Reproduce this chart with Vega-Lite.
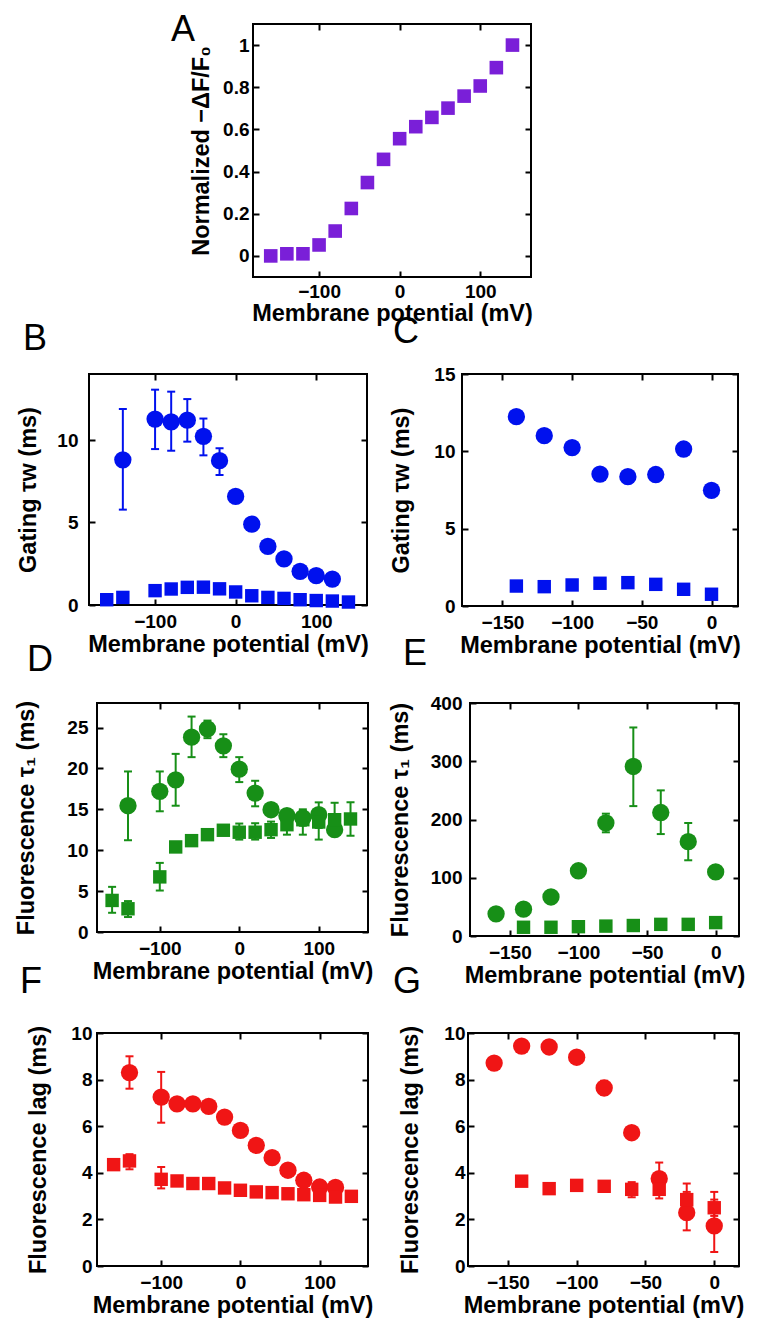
{
"$schema":"https://vega.github.io/schema/vega-lite/v6.json",
"autosize":{"type":"none"},
"padding":{"left":89,"top":24,"right":673,"bottom":1314},
"background":"white",
"config":{
 "view":{"stroke":"black","strokeWidth":2},
 "axis":{"domain":false,"grid":false,"ticks":true,"tickSize":-6,"tickWidth":2,"tickColor":"black","labelFont":"Liberation Sans","labelFontSize":19,"labelFontWeight":"bold","labelColor":"black","titleFont":"Liberation Sans","titleFontSize":23.5,"titleFontWeight":"bold","titleColor":"black","labelFlush":false,"labelOverlap":false,"labelBound":false},
 "axisX":{"labelPadding":13,"titlePadding":1},
 "title":{"font":"Liberation Sans","fontSize":36,"fontWeight":"normal","anchor":"start","frame":"group","baseline":"alphabetic","color":"black"}
},
"datasets":{
 "A":[{"v":-160,"y":0.0,"s":"q"},{"v":-140,"y":0.01,"s":"q"},{"v":-120,"y":0.01,"s":"q"},{"v":-100,"y":0.052,"s":"q"},{"v":-80,"y":0.118,"s":"q"},{"v":-60,"y":0.225,"s":"q"},{"v":-40,"y":0.348,"s":"q"},{"v":-20,"y":0.458,"s":"q"},{"v":0,"y":0.556,"s":"q"},{"v":20,"y":0.613,"s":"q","lo":0.59,"hi":0.635},{"v":40,"y":0.657,"s":"q"},{"v":60,"y":0.701,"s":"q"},{"v":80,"y":0.758,"s":"q"},{"v":100,"y":0.806,"s":"q"},{"v":120,"y":0.893,"s":"q"},{"v":140,"y":1.0,"s":"q"}],
 "B":[{"v":-140,"y":8.8,"s":"c","lo":5.78,"hi":11.88},{"v":-100,"y":11.27,"s":"c","lo":9.45,"hi":13.05},{"v":-80,"y":11.1,"s":"c","lo":9.35,"hi":12.93},{"v":-60,"y":11.2,"s":"c","lo":9.9,"hi":12.48},{"v":-40,"y":10.22,"s":"c","lo":9.07,"hi":11.3},{"v":-20,"y":8.75,"s":"c","lo":7.88,"hi":9.5},{"v":0,"y":6.58,"s":"c"},{"v":20,"y":4.9,"s":"c"},{"v":40,"y":3.55,"s":"c"},{"v":60,"y":2.79,"s":"c"},{"v":80,"y":2.04,"s":"c"},{"v":100,"y":1.78,"s":"c"},{"v":120,"y":1.57,"s":"c"},
  {"v":-160,"y":0.32,"s":"q"},{"v":-140,"y":0.46,"s":"q"},{"v":-100,"y":0.87,"s":"q"},{"v":-80,"y":0.97,"s":"q"},{"v":-60,"y":1.07,"s":"q"},{"v":-40,"y":1.08,"s":"q"},{"v":-20,"y":0.98,"s":"q"},{"v":0,"y":0.79,"s":"q"},{"v":20,"y":0.56,"s":"q"},{"v":40,"y":0.46,"s":"q"},{"v":60,"y":0.4,"s":"q"},{"v":80,"y":0.32,"s":"q"},{"v":100,"y":0.27,"s":"q"},{"v":120,"y":0.24,"s":"q"},{"v":140,"y":0.18,"s":"q"}],
 "C":[{"v":-140,"y":12.24,"s":"c"},{"v":-120,"y":11.01,"s":"c"},{"v":-100,"y":10.24,"s":"c"},{"v":-80,"y":8.53,"s":"c"},{"v":-60,"y":8.36,"s":"c"},{"v":-40,"y":8.5,"s":"c"},{"v":-20,"y":10.15,"s":"c"},{"v":0,"y":7.48,"s":"c"},
  {"v":-140,"y":1.29,"s":"q"},{"v":-120,"y":1.25,"s":"q"},{"v":-100,"y":1.36,"s":"q"},{"v":-80,"y":1.47,"s":"q"},{"v":-60,"y":1.51,"s":"q"},{"v":-40,"y":1.4,"s":"q"},{"v":-20,"y":1.08,"s":"q"},{"v":0,"y":0.76,"s":"q"}],
 "D":[{"v":-140,"y":15.44,"s":"c","lo":11.22,"hi":19.63},{"v":-100,"y":17.2,"s":"c","lo":14.76,"hi":19.63},{"v":-80,"y":18.6,"s":"c","lo":15.44,"hi":21.78},{"v":-60,"y":23.82,"s":"c","lo":21.38,"hi":26.34},{"v":-40,"y":24.83,"s":"c","lo":23.7,"hi":25.85},{"v":-20,"y":22.76,"s":"c","lo":21.38,"hi":24.18},{"v":0,"y":19.91,"s":"c","lo":18.33,"hi":21.38},{"v":20,"y":16.99,"s":"c","lo":15.37,"hi":18.49},{"v":40,"y":14.95,"s":"c","lo":14.2,"hi":15.7},{"v":60,"y":14.22,"s":"c","lo":13.0,"hi":15.0},{"v":80,"y":13.94,"s":"c","lo":13.0,"hi":15.0},{"v":100,"y":14.34,"s":"c","lo":12.72,"hi":15.85},{"v":120,"y":12.51,"s":"c","lo":11.9,"hi":13.3},
  {"v":-160,"y":3.86,"s":"q","lo":2.35,"hi":5.52},{"v":-140,"y":2.84,"s":"q","lo":1.83,"hi":3.78},{"v":-100,"y":6.74,"s":"q","lo":5.07,"hi":8.45},{"v":-80,"y":10.4,"s":"q"},{"v":-60,"y":11.17,"s":"q"},{"v":-40,"y":11.9,"s":"q","lo":11.4,"hi":12.4},{"v":-20,"y":12.44,"s":"q","lo":11.9,"hi":13.0},{"v":0,"y":12.2,"s":"q","lo":11.3,"hi":13.26},{"v":20,"y":12.2,"s":"q","lo":11.3,"hi":13.3},{"v":40,"y":12.51,"s":"q","lo":11.5,"hi":13.5},{"v":60,"y":13.12,"s":"q","lo":11.9,"hi":14.7},{"v":80,"y":13.73,"s":"q","lo":11.9,"hi":14.8},{"v":100,"y":13.45,"s":"q","lo":11.3,"hi":14.7},{"v":120,"y":13.73,"s":"q","lo":11.9,"hi":15.8},{"v":140,"y":13.82,"s":"q","lo":11.78,"hi":15.85}],
 "E":[{"v":-160,"y":38,"s":"c"},{"v":-140,"y":46,"s":"c"},{"v":-120,"y":67,"s":"c"},{"v":-100,"y":112,"s":"c"},{"v":-80,"y":194,"s":"c","lo":178,"hi":210},{"v":-60,"y":291,"s":"c","lo":223,"hi":358},{"v":-40,"y":212,"s":"c","lo":175,"hi":250},{"v":-20,"y":162,"s":"c","lo":130,"hi":194},{"v":0,"y":110,"s":"c"},
  {"v":-140,"y":15,"s":"q"},{"v":-120,"y":15,"s":"q"},{"v":-100,"y":16,"s":"q"},{"v":-80,"y":17,"s":"q"},{"v":-60,"y":18,"s":"q"},{"v":-40,"y":20,"s":"q"},{"v":-20,"y":20,"s":"q"},{"v":0,"y":23,"s":"q"}],
 "F":[{"v":-140,"y":8.3,"s":"c","lo":7.61,"hi":9.0},{"v":-100,"y":7.25,"s":"c","lo":6.15,"hi":8.33},{"v":-80,"y":6.96,"s":"c"},{"v":-60,"y":6.96,"s":"c"},{"v":-40,"y":6.85,"s":"c"},{"v":-20,"y":6.39,"s":"c"},{"v":0,"y":5.82,"s":"c"},{"v":20,"y":5.18,"s":"c"},{"v":40,"y":4.65,"s":"c"},{"v":60,"y":4.11,"s":"c"},{"v":80,"y":3.68,"s":"c"},{"v":100,"y":3.39,"s":"c"},{"v":120,"y":3.37,"s":"c"},
  {"v":-160,"y":4.35,"s":"q"},{"v":-140,"y":4.51,"s":"q","lo":4.15,"hi":4.8},{"v":-100,"y":3.72,"s":"q","lo":3.33,"hi":4.25},{"v":-80,"y":3.65,"s":"q"},{"v":-60,"y":3.54,"s":"q"},{"v":-40,"y":3.54,"s":"q"},{"v":-20,"y":3.35,"s":"q"},{"v":0,"y":3.25,"s":"q"},{"v":20,"y":3.18,"s":"q"},{"v":40,"y":3.15,"s":"q"},{"v":60,"y":3.1,"s":"q"},{"v":80,"y":3.06,"s":"q"},{"v":100,"y":3.03,"s":"q"},{"v":120,"y":2.96,"s":"q"},{"v":140,"y":2.99,"s":"q"}],
 "G":[{"v":-160,"y":8.71,"s":"c"},{"v":-140,"y":9.44,"s":"c"},{"v":-120,"y":9.4,"s":"c"},{"v":-100,"y":8.96,"s":"c"},{"v":-80,"y":7.64,"s":"c","lo":7.35,"hi":7.95},{"v":-60,"y":5.72,"s":"c"},{"v":-40,"y":3.75,"s":"c","lo":3.1,"hi":4.44},{"v":-20,"y":2.29,"s":"c","lo":1.53,"hi":3.54},{"v":0,"y":1.72,"s":"c","lo":0.6,"hi":3.18},
  {"v":-140,"y":3.64,"s":"q"},{"v":-120,"y":3.32,"s":"q"},{"v":-100,"y":3.46,"s":"q"},{"v":-80,"y":3.42,"s":"q"},{"v":-60,"y":3.29,"s":"q","lo":2.95,"hi":3.6},{"v":-40,"y":3.29,"s":"q","lo":2.9,"hi":3.6},{"v":-20,"y":2.85,"s":"q","lo":2.47,"hi":3.18},{"v":0,"y":2.5,"s":"q","lo":2.15,"hi":2.85}]
},
"spacing":0,"bounds":"flush",
"vconcat":[
 {"spacing":0,"bounds":"flush","hconcat":[
  {"width":164,"height":10,"data":{"values":[{"z":0}]},"mark":{"type":"text","text":""},"encoding":{},"view":{"stroke":null}},
  {"width":278,"height":253,"title":{"text":"A","dx":-82,"offset":-26},"data":{"name":"A"},
   "layer":[
    {"transform":[{"filter":"isValid(datum.lo)"}],"mark":{"type":"rule","color":"#7a1fd8","strokeWidth":2},
     "encoding":{"x":{"field":"v","type":"quantitative","scale":{"domain":[-182,163],"nice":false,"zero":false},"axis":{"orient":"top","values":[-100,0,100],"labels":false,"title":null}},
      "y":{"field":"lo","type":"quantitative","scale":{"domain":[-0.1,1.1],"nice":false,"zero":false},"axis":{"orient":"right","values":[0,0.2,0.4,0.6,0.8,1],"labels":false,"title":null}},"y2":{"field":"hi"}}},
    {"transform":[{"filter":"datum.s==='q'"}],"mark":{"type":"point","shape":"square","filled":true,"opacity":1,"size":185,"color":"#7a1fd8"},
     "encoding":{"x":{"field":"v","type":"quantitative","scale":{"domain":[-182,163],"nice":false,"zero":false},"axis":{"orient":"bottom","values":[-100,0,100],"title":"Membrane potential (mV)","labelPadding":11,"titlePadding":0}},
      "y":{"field":"y","type":"quantitative","scale":{"domain":[-0.1,1.1],"nice":false,"zero":false},"axis":{"orient":"left","values":[0,0.2,0.4,0.6,0.8,1],"format":"~g","title":"Normalized −ΔF/F₀","labelPadding":10,"titlePadding":9}}}}
   ],
   "resolve":{"axis":{"x":"independent","y":"independent"}}}
 ]},
 {"width":10,"height":350,"data":{"values":[{"z":0}]},"mark":{"type":"text","text":""},"encoding":{},"view":{"stroke":null}},
 {"spacing":95,"bounds":"flush","hconcat":[
  {"width":278,"height":231,"title":{"text":"B","dx":-66,"offset":15},"data":{"name":"B"},
   "layer":[
    {"transform":[{"filter":"isValid(datum.lo)"}],"mark":{"type":"rule","color":"#0011ee","strokeWidth":2},
     "encoding":{"x":{"field":"v","type":"quantitative","scale":{"domain":[-182,163],"nice":false,"zero":false},"axis":null},"y":{"field":"lo","type":"quantitative","scale":{"domain":[0,14],"nice":false,"zero":false},"axis":null},"y2":{"field":"hi"}}},
    {"transform":[{"filter":"isValid(datum.lo)"}],"mark":{"type":"tick","orient":"horizontal","size":8,"thickness":2,"opacity":1,"color":"#0011ee"},
     "encoding":{"x":{"field":"v","type":"quantitative","scale":{"domain":[-182,163],"nice":false,"zero":false},"axis":null},"y":{"field":"lo","type":"quantitative","scale":{"domain":[0,14],"nice":false,"zero":false},"axis":null}}},
    {"transform":[{"filter":"isValid(datum.hi)"}],"mark":{"type":"tick","orient":"horizontal","size":8,"thickness":2,"opacity":1,"color":"#0011ee"},
     "encoding":{"x":{"field":"v","type":"quantitative","scale":{"domain":[-182,163],"nice":false,"zero":false},"axis":null},"y":{"field":"hi","type":"quantitative","scale":{"domain":[0,14],"nice":false,"zero":false},"axis":null}}},
    {"transform":[{"filter":"datum.s==='c'"}],"mark":{"type":"point","shape":"circle","filled":true,"opacity":1,"size":300,"color":"#0011ee"},
     "encoding":{"x":{"field":"v","type":"quantitative","scale":{"domain":[-182,163],"nice":false,"zero":false},"axis":{"orient":"bottom","values":[-100,0,100],"title":"Membrane potential (mV)"}},
      "y":{"field":"y","type":"quantitative","scale":{"domain":[0,14],"nice":false,"zero":false},"axis":{"orient":"left","values":[0,5,10],"title":"Gating τw (ms)","labelPadding":17,"titlePadding":16}}}},
    {"transform":[{"filter":"datum.s==='q'"}],"mark":{"type":"point","shape":"square","filled":true,"opacity":1,"size":180,"color":"#0011ee"},
     "encoding":{"x":{"field":"v","type":"quantitative","scale":{"domain":[-182,163],"nice":false,"zero":false},"axis":{"orient":"top","values":[-100,0,100],"labels":false,"title":null}},
      "y":{"field":"y","type":"quantitative","scale":{"domain":[0,14],"nice":false,"zero":false},"axis":{"orient":"right","values":[0,5,10],"labels":false,"title":null}}}}
   ],
   "resolve":{"axis":{"x":"independent","y":"independent"}}},
  {"width":276,"height":232,"title":{"text":"C","dx":-69,"offset":14},"data":{"name":"C"},
   "layer":[
    {"transform":[{"filter":"datum.s==='c'"}],"mark":{"type":"point","shape":"circle","filled":true,"opacity":1,"size":300,"color":"#0011ee"},
     "encoding":{"x":{"field":"v","type":"quantitative","scale":{"domain":[-179,19],"nice":false,"zero":false},"axis":{"orient":"bottom","values":[-150,-100,-50,0],"title":"Membrane potential (mV)"}},
      "y":{"field":"y","type":"quantitative","scale":{"domain":[0,15],"nice":false,"zero":false},"axis":{"orient":"left","values":[0,5,10,15],"title":"Gating τw (ms)","labelPadding":13,"titlePadding":20}}}},
    {"transform":[{"filter":"datum.s==='q'"}],"mark":{"type":"point","shape":"square","filled":true,"opacity":1,"size":180,"color":"#0011ee"},
     "encoding":{"x":{"field":"v","type":"quantitative","scale":{"domain":[-179,19],"nice":false,"zero":false},"axis":{"orient":"top","values":[-150,-100,-50,0],"labels":false,"title":null}},
      "y":{"field":"y","type":"quantitative","scale":{"domain":[0,15],"nice":false,"zero":false},"axis":{"orient":"right","values":[0,5,10,15],"labels":false,"title":null}}}}
   ],
   "resolve":{"axis":{"x":"independent","y":"independent"}}}
 ]},
 {"width":10,"height":329,"data":{"values":[{"z":0}]},"mark":{"type":"text","text":""},"encoding":{},"view":{"stroke":null}},
 {"spacing":0,"bounds":"flush","hconcat":[
  {"width":8,"height":10,"data":{"values":[{"z":0}]},"mark":{"type":"text","text":""},"encoding":{},"view":{"stroke":null}},
  {"spacing":102,"bounds":"flush","hconcat":[
   {"width":271,"height":229,"title":{"text":"D","dx":-70,"offset":21},"data":{"name":"D"},
    "layer":[
     {"transform":[{"filter":"isValid(datum.lo)"}],"mark":{"type":"rule","color":"#178f17","strokeWidth":2},
      "encoding":{"x":{"field":"v","type":"quantitative","scale":{"domain":[-179,162],"nice":false,"zero":false},"axis":null},"y":{"field":"lo","type":"quantitative","scale":{"domain":[0,28],"nice":false,"zero":false},"axis":null},"y2":{"field":"hi"}}},
     {"transform":[{"filter":"isValid(datum.lo)"}],"mark":{"type":"tick","orient":"horizontal","size":8,"thickness":2,"opacity":1,"color":"#178f17"},
      "encoding":{"x":{"field":"v","type":"quantitative","scale":{"domain":[-179,162],"nice":false,"zero":false},"axis":null},"y":{"field":"lo","type":"quantitative","scale":{"domain":[0,28],"nice":false,"zero":false},"axis":null}}},
     {"transform":[{"filter":"isValid(datum.hi)"}],"mark":{"type":"tick","orient":"horizontal","size":8,"thickness":2,"opacity":1,"color":"#178f17"},
      "encoding":{"x":{"field":"v","type":"quantitative","scale":{"domain":[-179,162],"nice":false,"zero":false},"axis":null},"y":{"field":"hi","type":"quantitative","scale":{"domain":[0,28],"nice":false,"zero":false},"axis":null}}},
     {"transform":[{"filter":"datum.s==='c'"}],"mark":{"type":"point","shape":"circle","filled":true,"opacity":1,"size":300,"color":"#178f17"},
      "encoding":{"x":{"field":"v","type":"quantitative","scale":{"domain":[-179,162],"nice":false,"zero":false},"axis":{"orient":"bottom","values":[-100,0,100],"title":"Membrane potential (mV)"}},
       "y":{"field":"y","type":"quantitative","scale":{"domain":[0,28],"nice":false,"zero":false},"axis":{"orient":"left","values":[0,5,10,15,20,25],"title":"Fluorescence τ₁ (ms)","labelPadding":15,"titlePadding":28}}}},
     {"transform":[{"filter":"datum.s==='q'"}],"mark":{"type":"point","shape":"square","filled":true,"opacity":1,"size":180,"color":"#178f17"},
      "encoding":{"x":{"field":"v","type":"quantitative","scale":{"domain":[-179,162],"nice":false,"zero":false},"axis":{"orient":"top","values":[-100,0,100],"labels":false,"title":null}},
       "y":{"field":"y","type":"quantitative","scale":{"domain":[0,28],"nice":false,"zero":false},"axis":{"orient":"right","values":[0,5,10,15,20,25],"labels":false,"title":null}}}}
    ],
    "resolve":{"axis":{"x":"independent","y":"independent"}}},
   {"width":269,"height":233,"title":{"text":"E","dx":-67,"offset":21},"data":{"name":"E"},
    "layer":[
     {"transform":[{"filter":"isValid(datum.lo)"}],"mark":{"type":"rule","color":"#178f17","strokeWidth":2},
      "encoding":{"x":{"field":"v","type":"quantitative","scale":{"domain":[-179,17],"nice":false,"zero":false},"axis":null},"y":{"field":"lo","type":"quantitative","scale":{"domain":[0,400],"nice":false,"zero":false},"axis":null},"y2":{"field":"hi"}}},
     {"transform":[{"filter":"isValid(datum.lo)"}],"mark":{"type":"tick","orient":"horizontal","size":8,"thickness":2,"opacity":1,"color":"#178f17"},
      "encoding":{"x":{"field":"v","type":"quantitative","scale":{"domain":[-179,17],"nice":false,"zero":false},"axis":null},"y":{"field":"lo","type":"quantitative","scale":{"domain":[0,400],"nice":false,"zero":false},"axis":null}}},
     {"transform":[{"filter":"isValid(datum.hi)"}],"mark":{"type":"tick","orient":"horizontal","size":8,"thickness":2,"opacity":1,"color":"#178f17"},
      "encoding":{"x":{"field":"v","type":"quantitative","scale":{"domain":[-179,17],"nice":false,"zero":false},"axis":null},"y":{"field":"hi","type":"quantitative","scale":{"domain":[0,400],"nice":false,"zero":false},"axis":null}}},
     {"transform":[{"filter":"datum.s==='c'"}],"mark":{"type":"point","shape":"circle","filled":true,"opacity":1,"size":300,"color":"#178f17"},
      "encoding":{"x":{"field":"v","type":"quantitative","scale":{"domain":[-179,17],"nice":false,"zero":false},"axis":{"orient":"bottom","values":[-150,-100,-50,0],"title":"Membrane potential (mV)"}},
       "y":{"field":"y","type":"quantitative","scale":{"domain":[0,400],"nice":false,"zero":false},"axis":{"orient":"left","values":[0,100,200,300,400],"title":"Fluorescence τ₁ (ms)","labelPadding":14,"titlePadding":18}}}},
     {"transform":[{"filter":"datum.s==='q'"}],"mark":{"type":"point","shape":"square","filled":true,"opacity":1,"size":180,"color":"#178f17"},
      "encoding":{"x":{"field":"v","type":"quantitative","scale":{"domain":[-179,17],"nice":false,"zero":false},"axis":{"orient":"top","values":[-150,-100,-50,0],"labels":false,"title":null}},
       "y":{"field":"y","type":"quantitative","scale":{"domain":[0,400],"nice":false,"zero":false},"axis":{"orient":"right","values":[0,100,200,300,400],"labels":false,"title":null}}}}
    ],
    "resolve":{"axis":{"x":"independent","y":"independent"}}}
  ]}
 ]},
 {"width":10,"height":330,"data":{"values":[{"z":0}]},"mark":{"type":"text","text":""},"encoding":{},"view":{"stroke":null}},
 {"spacing":0,"bounds":"flush","hconcat":[
  {"width":8,"height":10,"data":{"values":[{"z":0}]},"mark":{"type":"text","text":""},"encoding":{},"view":{"stroke":null}},
  {"spacing":100,"bounds":"flush","hconcat":[
   {"width":271,"height":233,"title":{"text":"F","dx":-77,"offset":23},"data":{"name":"F"},
    "layer":[
     {"transform":[{"filter":"isValid(datum.lo)"}],"mark":{"type":"rule","color":"#f01515","strokeWidth":2},
      "encoding":{"x":{"field":"v","type":"quantitative","scale":{"domain":[-181,161],"nice":false,"zero":false},"axis":null},"y":{"field":"lo","type":"quantitative","scale":{"domain":[0,10],"nice":false,"zero":false},"axis":null},"y2":{"field":"hi"}}},
     {"transform":[{"filter":"isValid(datum.lo)"}],"mark":{"type":"tick","orient":"horizontal","size":8,"thickness":2,"opacity":1,"color":"#f01515"},
      "encoding":{"x":{"field":"v","type":"quantitative","scale":{"domain":[-181,161],"nice":false,"zero":false},"axis":null},"y":{"field":"lo","type":"quantitative","scale":{"domain":[0,10],"nice":false,"zero":false},"axis":null}}},
     {"transform":[{"filter":"isValid(datum.hi)"}],"mark":{"type":"tick","orient":"horizontal","size":8,"thickness":2,"opacity":1,"color":"#f01515"},
      "encoding":{"x":{"field":"v","type":"quantitative","scale":{"domain":[-181,161],"nice":false,"zero":false},"axis":null},"y":{"field":"hi","type":"quantitative","scale":{"domain":[0,10],"nice":false,"zero":false},"axis":null}}},
     {"transform":[{"filter":"datum.s==='c'"}],"mark":{"type":"point","shape":"circle","filled":true,"opacity":1,"size":300,"color":"#f01515"},
      "encoding":{"x":{"field":"v","type":"quantitative","scale":{"domain":[-181,161],"nice":false,"zero":false},"axis":{"orient":"bottom","values":[-100,0,100],"title":"Membrane potential (mV)"}},
       "y":{"field":"y","type":"quantitative","scale":{"domain":[0,10],"nice":false,"zero":false},"axis":{"orient":"left","values":[0,2,4,6,8,10],"title":"Fluorescence lag (ms)","labelPadding":11,"titlePadding":20}}}},
     {"transform":[{"filter":"datum.s==='q'"}],"mark":{"type":"point","shape":"square","filled":true,"opacity":1,"size":180,"color":"#f01515"},
      "encoding":{"x":{"field":"v","type":"quantitative","scale":{"domain":[-181,161],"nice":false,"zero":false},"axis":{"orient":"top","values":[-100,0,100],"labels":false,"title":null}},
       "y":{"field":"y","type":"quantitative","scale":{"domain":[0,10],"nice":false,"zero":false},"axis":{"orient":"right","values":[0,2,4,6,8,10],"labels":false,"title":null}}}}
    ],
    "resolve":{"axis":{"x":"independent","y":"independent"}}},
   {"width":271,"height":233,"title":{"text":"G","dx":-75,"offset":23},"data":{"name":"G"},
    "layer":[
     {"transform":[{"filter":"isValid(datum.lo)"}],"mark":{"type":"rule","color":"#f01515","strokeWidth":2},
      "encoding":{"x":{"field":"v","type":"quantitative","scale":{"domain":[-179,18],"nice":false,"zero":false},"axis":null},"y":{"field":"lo","type":"quantitative","scale":{"domain":[0,10],"nice":false,"zero":false},"axis":null},"y2":{"field":"hi"}}},
     {"transform":[{"filter":"isValid(datum.lo)"}],"mark":{"type":"tick","orient":"horizontal","size":8,"thickness":2,"opacity":1,"color":"#f01515"},
      "encoding":{"x":{"field":"v","type":"quantitative","scale":{"domain":[-179,18],"nice":false,"zero":false},"axis":null},"y":{"field":"lo","type":"quantitative","scale":{"domain":[0,10],"nice":false,"zero":false},"axis":null}}},
     {"transform":[{"filter":"isValid(datum.hi)"}],"mark":{"type":"tick","orient":"horizontal","size":8,"thickness":2,"opacity":1,"color":"#f01515"},
      "encoding":{"x":{"field":"v","type":"quantitative","scale":{"domain":[-179,18],"nice":false,"zero":false},"axis":null},"y":{"field":"hi","type":"quantitative","scale":{"domain":[0,10],"nice":false,"zero":false},"axis":null}}},
     {"transform":[{"filter":"datum.s==='c'"}],"mark":{"type":"point","shape":"circle","filled":true,"opacity":1,"size":300,"color":"#f01515"},
      "encoding":{"x":{"field":"v","type":"quantitative","scale":{"domain":[-179,18],"nice":false,"zero":false},"axis":{"orient":"bottom","values":[-150,-100,-50,0],"title":"Membrane potential (mV)"}},
       "y":{"field":"y","type":"quantitative","scale":{"domain":[0,10],"nice":false,"zero":false},"axis":{"orient":"left","values":[0,2,4,6,8,10],"title":"Fluorescence lag (ms)","labelPadding":9,"titlePadding":21}}}},
     {"transform":[{"filter":"datum.s==='q'"}],"mark":{"type":"point","shape":"square","filled":true,"opacity":1,"size":180,"color":"#f01515"},
      "encoding":{"x":{"field":"v","type":"quantitative","scale":{"domain":[-179,18],"nice":false,"zero":false},"axis":{"orient":"top","values":[-150,-100,-50,0],"labels":false,"title":null}},
       "y":{"field":"y","type":"quantitative","scale":{"domain":[0,10],"nice":false,"zero":false},"axis":{"orient":"right","values":[0,2,4,6,8,10],"labels":false,"title":null}}}}
    ],
    "resolve":{"axis":{"x":"independent","y":"independent"}}}
  ]}
 ]}
]
}
